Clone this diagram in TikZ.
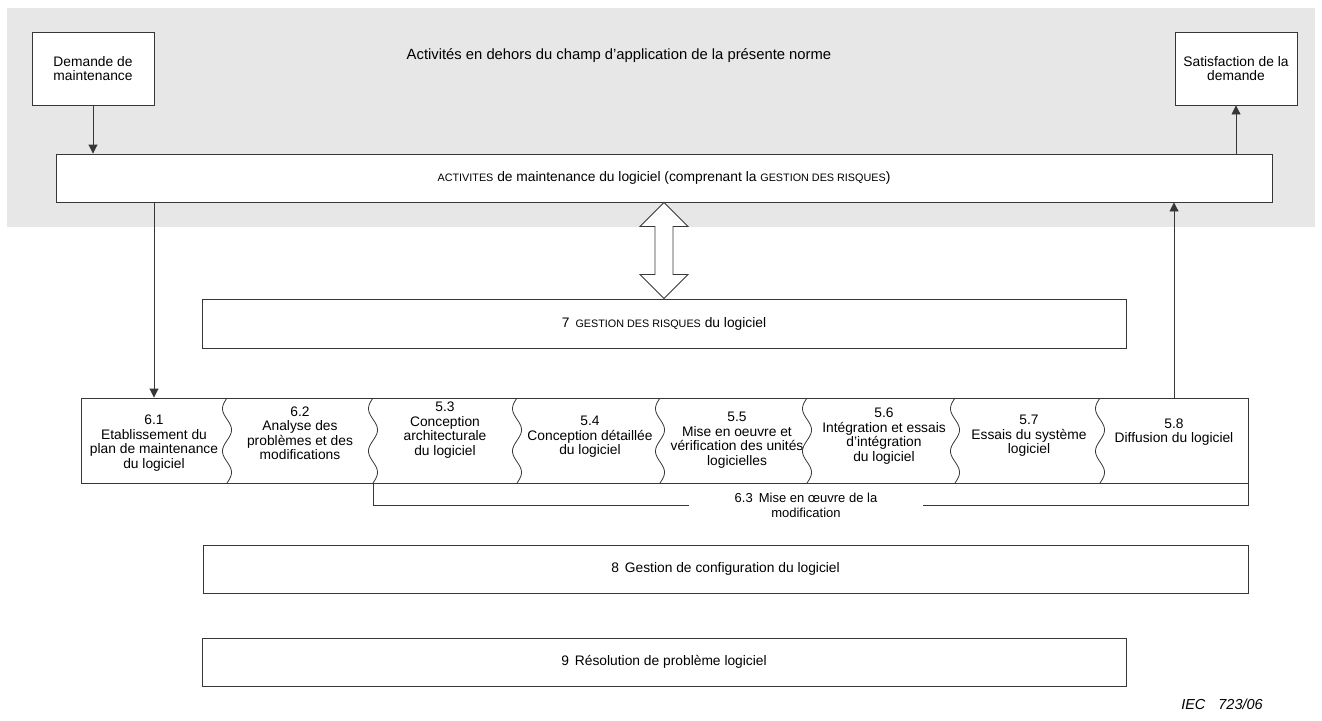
\documentclass[tikz,border=0pt]{standalone}
\usepackage{fontspec}
\setmainfont{Liberation Sans}
\usetikzlibrary{arrows.meta,calc}
\definecolor{zonegray}{RGB}{231,231,231}
\definecolor{linegray}{RGB}{55,55,55}
\newcommand{\petitcap}[1]{{\fontsize{10.8}{14}\selectfont #1}}

\begin{document}
\begin{tikzpicture}[x=1pt, y=-1pt]
  \tikzstyle{box}=[rectangle, draw=linegray, fill=white, line width=0.9pt, inner sep=0pt, font=\fontsize{13.8}{14}\selectfont, align=center]
  \tikzstyle{stepbox}=[inner sep=0pt, font=\fontsize{13.8}{14.5}\selectfont, align=center]
  \tikzstyle{flow}=[draw=linegray, line width=0.9pt, -{Triangle[length=9pt,width=9pt]}]
  \tikzstyle{wave}=[draw=linegray, line width=0.8pt]

  \useasboundingbox (0,0) rectangle (1322,720);

  % Zone hors du champ de la norme
  \fill[zonegray] (7,8) rectangle (1315,227);
  \node[stepbox, font=\fontsize{14.8}{15}\selectfont] (zone) at (619,56) {Activités en dehors du champ d’application de la présente norme};

  % Boites du haut
  \node[box, minimum width=122pt, minimum height=73pt] (dem) at (93,68.5) {Demande de\\maintenance};
  \node[box, minimum width=122pt, minimum height=73pt] (sat) at (1236,68.5) {Satisfaction de la\\demande};
  \node[box, minimum width=1216pt, minimum height=48pt] (act) at (664,178) {\petitcap{ACTIVITES} de maintenance du logiciel (comprenant la \petitcap{GESTION DES RISQUES})};

  % Gestion des risques
  \node[box, minimum width=924pt, minimum height=49pt] (risk) at (664,323.5) {7\hspace{6pt}\petitcap{GESTION DES RISQUES} du logiciel};

  % Processus de maintenance
  \node[box, minimum width=1167pt, minimum height=85pt] (proc) at (664.5,440.5) {};
  \foreach \xd in {227,373,517,660,807,955,1100}
    \draw[wave] plot[domain=0:85, samples=60, smooth] ({\xd-4.5*sin(\x*8.47)}, {398+\x});

  \node[stepbox] (s61) at (154,443) {6.1\\Etablissement du\\plan de maintenance\\du logiciel};
  \node[stepbox] (s62) at (300,433) {6.2\\Analyse des\\problèmes et des\\modifications};
  \node[stepbox] (s53) at (445,430) {5.3\\Conception\\architecturale\\du logiciel};
  \node[stepbox] (s54) at (590,437) {5.4\\Conception détaillée\\du logiciel};
  \node[stepbox] (s55) at (737,440) {5.5\\Mise en oeuvre et\\vérification des unités\\logicielles};
  \node[stepbox] (s56) at (884,436) {5.6\\Intégration et essais\\d’intégration\\du logiciel};
  \node[stepbox] (s57) at (1029,436) {5.7\\Essais du système\\logiciel};
  \node[stepbox] (s58) at (1174,432) {5.8\\Diffusion du logiciel};

  % Mise en oeuvre de la modification
  \node[stepbox, font=\fontsize{13}{15}\selectfont, minimum width=234pt] (m63) at (806,505.5) {6.3\hspace{6pt}Mise en œuvre de la\\modification};
  \coordinate (b53) at (373,483);
  \draw[linegray, line width=0.9pt] (b53) |- (m63.west);
  \draw[linegray, line width=0.9pt] (proc.south east) |- (m63.east);

  % Configuration et resolution
  \node[box, minimum width=1045pt, minimum height=48pt] (conf) at (725.5,569) {8\hspace{6pt}Gestion de configuration du logiciel};
  \node[box, minimum width=924pt, minimum height=48pt] (reso) at (664,662) {9\hspace{6pt}Résolution de problème logiciel};

  % Fleches
  \draw[flow] (dem.south) -- (dem.south |- act.north);
  \draw[flow] (sat.south |- act.north) -- (sat.south);
  \draw[flow] (act.south -| s61) -- (s61 |- proc.north);
  \draw[flow] (s58 |- proc.north) -- (s58 |- act.south);
  \draw[linegray, line width=0.8pt, fill=white] (act.south) -- ++(24,24) -- ++(-15,0) -- ++(0,48) -- ++(15,0) -- (risk.north) -- ++(-24,-24) -- ++(15,0) -- ++(0,-48) -- ++(-15,0) -- cycle;

  % Reference
  \node[font=\fontsize{14.5}{15}\selectfont\itshape, inner sep=0pt] (ref) at (1222,704) {IEC\hspace{13pt}723/06};
\end{tikzpicture}
\end{document}
